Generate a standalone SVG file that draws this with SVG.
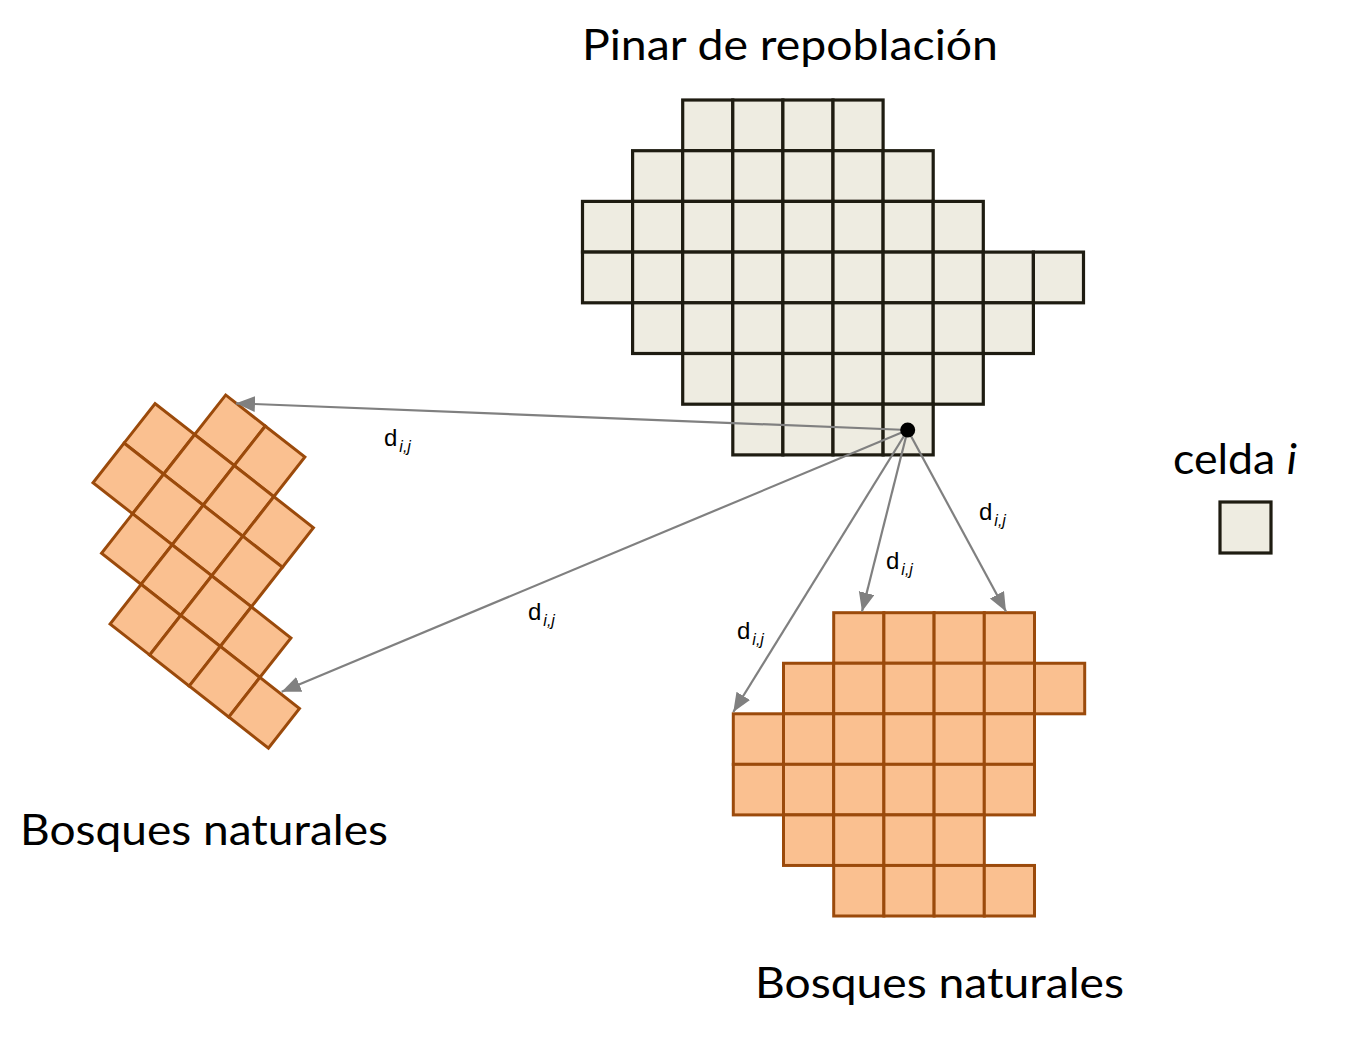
<svg xmlns="http://www.w3.org/2000/svg" xmlns:xlink="http://www.w3.org/1999/xlink" width="1367" height="1052" viewBox="0 0 1367 1052">
<style>
.pc{fill:#EEECE1;stroke:#1E1C11;stroke-width:3.2}
.oc{fill:#FAC090;stroke:#9B4A0B;stroke-width:3}
.big{font-family:Lato,"Open Sans","Liberation Sans",sans-serif;font-size:42px;fill:#000}
.d{font-family:"Liberation Sans",Arial,sans-serif;font-size:24px;fill:#000}
.sub{font-size:16px;font-style:italic}
.arr{stroke:#808080;stroke-width:2.2;fill:none;marker-end:url(#ah)}
</style>
<defs>
<marker id="ah" markerUnits="userSpaceOnUse" markerWidth="20" markerHeight="18" refX="19" refY="8" orient="auto">
<path d="M0,0 L19,8 L0,16 z" fill="#808080"/>
</marker>
<rect id="p" width="50.1" height="50.7" class="pc"/>
<rect id="o" width="50.2" height="50.55" class="oc"/>
<rect id="r" width="50.3" height="50.3" class="oc"/>
</defs>
<rect width="1367" height="1052" fill="#fff"/>

<g id="pinar">
<use xlink:href="#p" x="682.7" y="100"/><use xlink:href="#p" x="732.8" y="100"/><use xlink:href="#p" x="782.9" y="100"/><use xlink:href="#p" x="833" y="100"/>
<use xlink:href="#p" x="632.6" y="150.7"/><use xlink:href="#p" x="682.7" y="150.7"/><use xlink:href="#p" x="732.8" y="150.7"/><use xlink:href="#p" x="782.9" y="150.7"/><use xlink:href="#p" x="833" y="150.7"/><use xlink:href="#p" x="883.1" y="150.7"/>
<use xlink:href="#p" x="582.5" y="201.4"/><use xlink:href="#p" x="632.6" y="201.4"/><use xlink:href="#p" x="682.7" y="201.4"/><use xlink:href="#p" x="732.8" y="201.4"/><use xlink:href="#p" x="782.9" y="201.4"/><use xlink:href="#p" x="833" y="201.4"/><use xlink:href="#p" x="883.1" y="201.4"/><use xlink:href="#p" x="933.2" y="201.4"/>
<use xlink:href="#p" x="582.5" y="252.1"/><use xlink:href="#p" x="632.6" y="252.1"/><use xlink:href="#p" x="682.7" y="252.1"/><use xlink:href="#p" x="732.8" y="252.1"/><use xlink:href="#p" x="782.9" y="252.1"/><use xlink:href="#p" x="833" y="252.1"/><use xlink:href="#p" x="883.1" y="252.1"/><use xlink:href="#p" x="933.2" y="252.1"/><use xlink:href="#p" x="983.3" y="252.1"/><use xlink:href="#p" x="1033.4" y="252.1"/>
<use xlink:href="#p" x="632.6" y="302.8"/><use xlink:href="#p" x="682.7" y="302.8"/><use xlink:href="#p" x="732.8" y="302.8"/><use xlink:href="#p" x="782.9" y="302.8"/><use xlink:href="#p" x="833" y="302.8"/><use xlink:href="#p" x="883.1" y="302.8"/><use xlink:href="#p" x="933.2" y="302.8"/><use xlink:href="#p" x="983.3" y="302.8"/>
<use xlink:href="#p" x="682.7" y="353.5"/><use xlink:href="#p" x="732.8" y="353.5"/><use xlink:href="#p" x="782.9" y="353.5"/><use xlink:href="#p" x="833" y="353.5"/><use xlink:href="#p" x="883.1" y="353.5"/><use xlink:href="#p" x="933.2" y="353.5"/>
<use xlink:href="#p" x="732.8" y="404.2"/><use xlink:href="#p" x="782.9" y="404.2"/><use xlink:href="#p" x="833" y="404.2"/><use xlink:href="#p" x="883.1" y="404.2"/>
</g>

<g id="bosque-izq" transform="translate(225.7,395) rotate(38.1)">
<use xlink:href="#r" x="0" y="0"/><use xlink:href="#r" x="50.3" y="0"/>
<use xlink:href="#r" x="-50.3" y="50.3"/><use xlink:href="#r" x="0" y="50.3"/><use xlink:href="#r" x="50.3" y="50.3"/><use xlink:href="#r" x="100.6" y="50.3"/>
<use xlink:href="#r" x="-50.3" y="100.6"/><use xlink:href="#r" x="0" y="100.6"/><use xlink:href="#r" x="50.3" y="100.6"/><use xlink:href="#r" x="100.6" y="100.6"/>
<use xlink:href="#r" x="0" y="150.9"/><use xlink:href="#r" x="50.3" y="150.9"/><use xlink:href="#r" x="100.6" y="150.9"/><use xlink:href="#r" x="150.9" y="150.9"/>
<use xlink:href="#r" x="50.3" y="201.2"/><use xlink:href="#r" x="100.6" y="201.2"/><use xlink:href="#r" x="150.9" y="201.2"/><use xlink:href="#r" x="201.2" y="201.2"/>
</g>

<g id="bosque-der">
<use xlink:href="#o" x="833.7" y="612.7"/><use xlink:href="#o" x="883.9" y="612.7"/><use xlink:href="#o" x="934.1" y="612.7"/><use xlink:href="#o" x="984.3" y="612.7"/>
<use xlink:href="#o" x="783.5" y="663.25"/><use xlink:href="#o" x="833.7" y="663.25"/><use xlink:href="#o" x="883.9" y="663.25"/><use xlink:href="#o" x="934.1" y="663.25"/><use xlink:href="#o" x="984.3" y="663.25"/><use xlink:href="#o" x="1034.5" y="663.25"/>
<use xlink:href="#o" x="733.3" y="713.8"/><use xlink:href="#o" x="783.5" y="713.8"/><use xlink:href="#o" x="833.7" y="713.8"/><use xlink:href="#o" x="883.9" y="713.8"/><use xlink:href="#o" x="934.1" y="713.8"/><use xlink:href="#o" x="984.3" y="713.8"/>
<use xlink:href="#o" x="733.3" y="764.35"/><use xlink:href="#o" x="783.5" y="764.35"/><use xlink:href="#o" x="833.7" y="764.35"/><use xlink:href="#o" x="883.9" y="764.35"/><use xlink:href="#o" x="934.1" y="764.35"/><use xlink:href="#o" x="984.3" y="764.35"/>
<use xlink:href="#o" x="783.5" y="814.9"/><use xlink:href="#o" x="833.7" y="814.9"/><use xlink:href="#o" x="883.9" y="814.9"/><use xlink:href="#o" x="934.1" y="814.9"/>
<use xlink:href="#o" x="833.7" y="865.45"/><use xlink:href="#o" x="883.9" y="865.45"/><use xlink:href="#o" x="934.1" y="865.45"/><use xlink:href="#o" x="984.3" y="865.45"/>
</g>

<g id="leyenda">
<rect x="1220" y="502" width="51" height="51" class="pc"/>
<text class="big" x="1173" y="474" textLength="124" lengthAdjust="spacingAndGlyphs">celda <tspan font-style="italic">i</tspan></text>
</g>

<g id="titulos">
<text class="big" x="582" y="60" textLength="416" lengthAdjust="spacingAndGlyphs">Pinar de repoblación</text>
<text class="big" x="20" y="845" textLength="368" lengthAdjust="spacingAndGlyphs">Bosques naturales</text>
<text class="big" x="755" y="998" textLength="369" lengthAdjust="spacingAndGlyphs">Bosques naturales</text>
</g>

<g id="conectores">
<line class="arr" x1="907.7" y1="430" x2="236" y2="403.3"/>
<line class="arr" x1="907.7" y1="430" x2="281.7" y2="691.7"/>
<line class="arr" x1="907.7" y1="430" x2="733.3" y2="712"/>
<line class="arr" x1="907.7" y1="430" x2="862" y2="611.5"/>
<line class="arr" x1="907.7" y1="430" x2="1006" y2="611.5"/>
<circle cx="907.7" cy="430" r="7.5" fill="#000"/>
</g>

<g id="etiquetas">
<text class="d" x="384" y="446">d<tspan class="sub" dx="2" dy="6">i,j</tspan></text>
<text class="d" x="528" y="620">d<tspan class="sub" dx="2" dy="6">i,j</tspan></text>
<text class="d" x="737" y="639">d<tspan class="sub" dx="2" dy="6">i,j</tspan></text>
<text class="d" x="886" y="569">d<tspan class="sub" dx="2" dy="6">i,j</tspan></text>
<text class="d" x="979" y="520">d<tspan class="sub" dx="2" dy="6">i,j</tspan></text>
</g>
</svg>
